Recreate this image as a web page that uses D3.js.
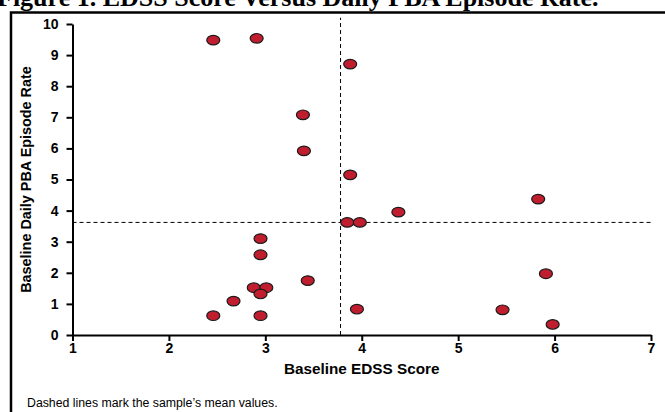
<!DOCTYPE html>
<html>
<head>
<meta charset="utf-8">
<script src="https://cdn.jsdelivr.net/npm/d3@7"></script>
<style>
  body { margin: 0; background: #fff; }
  svg { display: block; }
</style>
</head>
<body>
<script>
// data: EDSS score vs daily PBA episode rate
var edss = [2.46, 2.91, 3.88, 3.39, 3.40, 3.88, 4.38, 5.83, 3.85, 3.98, 2.95, 2.95,
            5.91, 3.44, 2.88, 3.01, 2.95, 2.67, 2.46, 2.95, 3.95, 5.46, 5.98];
var pbaRate = [9.48, 9.54, 8.71, 7.08, 5.92, 5.15, 3.95, 4.37, 3.62, 3.62, 3.10, 2.58,
               1.97, 1.75, 1.52, 1.52, 1.32, 1.09, 0.62, 0.62, 0.83, 0.81, 0.34];
var meanEdss = 3.78;
var meanRate = 3.62;
var xTicks = [1, 2, 3, 4, 5, 6, 7];
var yTicks = [0, 1, 2, 3, 4, 5, 6, 7, 8, 9, 10];

var width = 665, height = 412;
var margin = {top: 24, right: 14, bottom: 77, left: 72.5};

var svg = d3.select("body").append("svg")
  .attr("width", width)
  .attr("height", height);

// title, cut off by the top of the frame
svg.append("text")
  .attr("x", -3)
  .attr("y", 6)
  .style("font-family", "'Times New Roman', 'Liberation Serif', serif")
  .style("font-weight", "bold")
  .style("font-size", "26px")
  .text("Figure 1. EDSS Score Versus Daily PBA Episode Rate.");

// outer frame
svg.append("rect")
  .attr("x", 11)
  .attr("y", 12.5)
  .attr("width", 700)
  .attr("height", 450)
  .attr("fill", "none")
  .attr("stroke", "#000")
  .attr("stroke-width", 2.5);

var x = d3.scaleLinear().domain([1, 7]).range([margin.left, width - margin.right]);
var y = d3.scaleLinear().domain([0, 10]).range([height - margin.bottom, margin.top]);

var font = "Arial, 'Liberation Sans', sans-serif";

// mean lines
svg.append("line")
  .attr("x1", x(meanEdss)).attr("x2", x(meanEdss))
  .attr("y1", y(0)).attr("y2", y(10.2))
  .attr("stroke", "#000").attr("stroke-width", 1)
  .attr("stroke-dasharray", "4,3");
svg.append("line")
  .attr("x1", x(1)).attr("x2", x(7))
  .attr("y1", y(meanRate)).attr("y2", y(meanRate))
  .attr("stroke", "#000").attr("stroke-width", 1)
  .attr("stroke-dasharray", "4,3");

// axes
var xAxis = svg.append("g")
  .attr("transform", "translate(0," + y(0) + ")")
  .call(d3.axisBottom(x).tickValues(xTicks).tickFormat(d3.format("d"))
    .tickSize(6).tickSizeOuter(0).tickPadding(2));
var yAxis = svg.append("g")
  .attr("transform", "translate(" + x(1) + ",0)")
  .call(d3.axisLeft(y).tickValues(yTicks).tickFormat(d3.format("d"))
    .tickSize(6).tickSizeOuter(0).tickPadding(8));

[xAxis, yAxis].forEach(function(g) {
  g.select(".domain").attr("stroke-width", 2);
  g.selectAll(".tick line").attr("stroke-width", 2);
  g.selectAll("text")
    .style("font-family", font)
    .style("font-weight", "bold")
    .style("font-size", "14px")
    .attr("fill", "#000");
});

svg.append("text")
  .attr("x", x(4))
  .attr("y", 374)
  .attr("text-anchor", "middle")
  .style("font-family", font)
  .style("font-weight", "bold")
  .style("font-size", "15.3px")
  .text("Baseline EDSS Score");

svg.append("text")
  .attr("transform", "translate(31," + y(5) + ") rotate(-90)")
  .attr("text-anchor", "middle")
  .style("font-family", font)
  .style("font-weight", "bold")
  .style("font-size", "14.4px")
  .text("Baseline Daily PBA Episode Rate");

// points
svg.append("g").selectAll("ellipse")
  .data(edss)
  .enter().append("ellipse")
  .attr("cx", function(d) { return x(d); })
  .attr("cy", function(d, i) { return y(pbaRate[i]); })
  .attr("rx", 6.5)
  .attr("ry", 4.8)
  .attr("fill", "#c01e2e")
  .attr("stroke", "#1a1a1a")
  .attr("stroke-width", 1.2);

svg.append("text")
  .attr("x", 27)
  .attr("y", 407)
  .style("font-family", font)
  .style("font-size", "12.3px")
  .text("Dashed lines mark the sample\u2019s mean values.");
</script>
</body>
</html>
